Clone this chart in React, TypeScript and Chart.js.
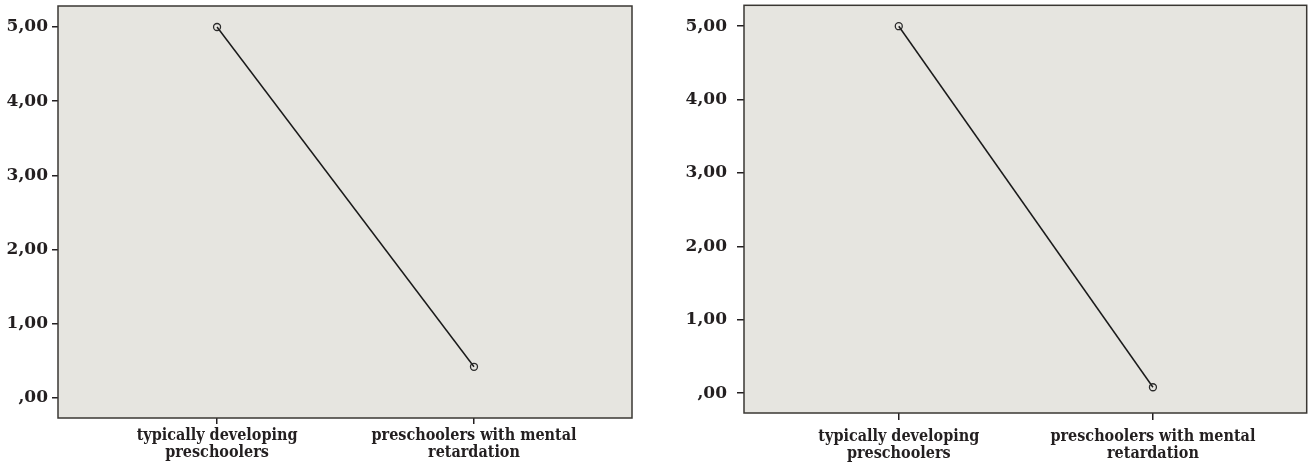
import React, { useEffect, useRef } from 'react';
import { Chart, registerables } from 'chart.js';
Chart.register(...registerables);

// ---- data ----
const categories: string[][] = [
  ['typically developing', 'preschoolers'],
  ['preschoolers with mental', 'retardation'],
];
const leftValues: number[] = [5.0, 0.42];
const rightValues: number[] = [5.0, 0.08];
const yTickValues: number[] = [0, 1, 2, 3, 4, 5];
const yTickLabels: string[] = [',00', '1,00', '2,00', '3,00', '4,00', '5,00'];

const H = 468;
const BG = '#e6e5e0';
const INK = '#231f20';

type Geo = {
  W: number;
  area: { left: number; top: number; right: number; bottom: number };
  xMin: number; xMax: number; yMin: number; yMax: number;
  yTickLen: number; yPad: number; xTickLen: number; xPad: number;
};

const framePlugin = {
  id: 'frame',
  beforeDraw(chart: any) {
    const { ctx, chartArea: a } = chart;
    ctx.save();
    ctx.fillStyle = BG;
    ctx.fillRect(a.left, a.top, a.right - a.left, a.bottom - a.top);
    ctx.restore();
  },
  afterDraw(chart: any) {
    const { ctx, chartArea: a } = chart;
    ctx.save();
    ctx.strokeStyle = '#3a3733';
    ctx.lineWidth = 1.5;
    ctx.strokeRect(a.left, a.top, a.right - a.left, a.bottom - a.top);
    ctx.restore();
  },
};

function makeConfig(values: number[], g: Geo): any {
  return {
    type: 'line',
    data: {
      datasets: [
        {
          data: values.map((v, i) => ({ x: i, y: v })),
          borderColor: '#1a1a1a',
          borderWidth: 1.5,
          pointRadius: 3.5,
          pointBorderWidth: 1.3,
          pointBorderColor: '#2a2a2a',
          pointBackgroundColor: 'rgba(0,0,0,0)',
          tension: 0,
        },
      ],
    },
    options: {
      animation: false,
      responsive: false,
      maintainAspectRatio: false,
      layout: {
        padding: { left: 0, top: g.area.top, right: g.W - g.area.right, bottom: 0 },
      },
      plugins: { legend: { display: false }, tooltip: { enabled: false }, title: { display: false } },
      scales: {
        x: {
          type: 'linear',
          min: g.xMin,
          max: g.xMax,
          afterBuildTicks: (s: any) => {
            s.ticks = categories.map((_, i) => ({ value: i }));
          },
          afterFit: (s: any) => {
            s.height = H - g.area.bottom;
            s.paddingLeft = 0;
            s.paddingRight = 0;
            s.paddingTop = 0;
            s.paddingBottom = 0;
          },
          border: { display: false },
          grid: {
            drawOnChartArea: false,
            drawTicks: true,
            tickLength: g.xTickLen,
            color: INK,
            lineWidth: 1.5,
          },
          ticks: {
            autoSkip: false,
            maxRotation: 0,
            minRotation: 0,
            padding: g.xPad,
            color: INK,
            font: {
              family: '"DejaVu Serif Condensed", "DejaVu Serif", serif',
              weight: 'bold',
              size: 16,
              lineHeight: 1.03,
            },
            callback: (v: number) => categories[v] ?? '',
          },
        },
        y: {
          type: 'linear',
          min: g.yMin,
          max: g.yMax,
          afterBuildTicks: (s: any) => {
            s.ticks = yTickValues.map((v) => ({ value: v }));
          },
          afterFit: (s: any) => {
            s.width = g.area.left;
            s.paddingLeft = 0;
            s.paddingRight = 0;
            s.paddingTop = 0;
            s.paddingBottom = 0;
          },
          border: { display: false },
          grid: {
            drawOnChartArea: false,
            drawTicks: true,
            tickLength: g.yTickLen,
            color: INK,
            lineWidth: 1.5,
          },
          ticks: {
            padding: g.yPad,
            color: INK,
            font: { family: '"DejaVu Serif", serif', weight: 'bold', size: 17 },
            callback: (v: number) => {
              const idx = yTickValues.indexOf(v);
              return idx >= 0 ? yTickLabels[idx] : '';
            },
          },
        },
      },
    },
    plugins: [framePlugin],
  };
}

const leftGeo: Geo = {
  W: 650,
  area: { left: 58, top: 6, right: 632, bottom: 418 },
  xMin: -0.619, xMax: 1.615, yMin: -0.27, yMax: 5.283,
  yTickLen: 6, yPad: 4, xTickLen: 6, xPad: 4,
};
const rightGeo: Geo = {
  W: 662,
  area: { left: 94, top: 3, right: 661, bottom: 413 },
  xMin: -0.609, xMax: 1.605, yMin: -0.271, yMax: 5.285,
  yTickLen: 7, yPad: 10, xTickLen: 7, xPad: 9,
};

function Panel({ values, geo, left }: { values: number[]; geo: Geo; left: number }) {
  const ref = useRef<HTMLCanvasElement | null>(null);
  useEffect(() => {
    if (!ref.current) return;
    const chart = new Chart(ref.current, makeConfig(values, geo));
    return () => chart.destroy();
  }, [values, geo]);
  return (
    <canvas
      ref={ref}
      width={geo.W}
      height={H}
      style={{ position: 'absolute', left, top: 0, width: geo.W, height: H }}
    />
  );
}

export default function App() {
  return (
    <div style={{ position: 'fixed', left: 0, top: 0, width: 1312, height: H, background: '#fff' }}>
      <Panel values={leftValues} geo={leftGeo} left={0} />
      <Panel values={rightValues} geo={rightGeo} left={650} />
    </div>
  );
}
